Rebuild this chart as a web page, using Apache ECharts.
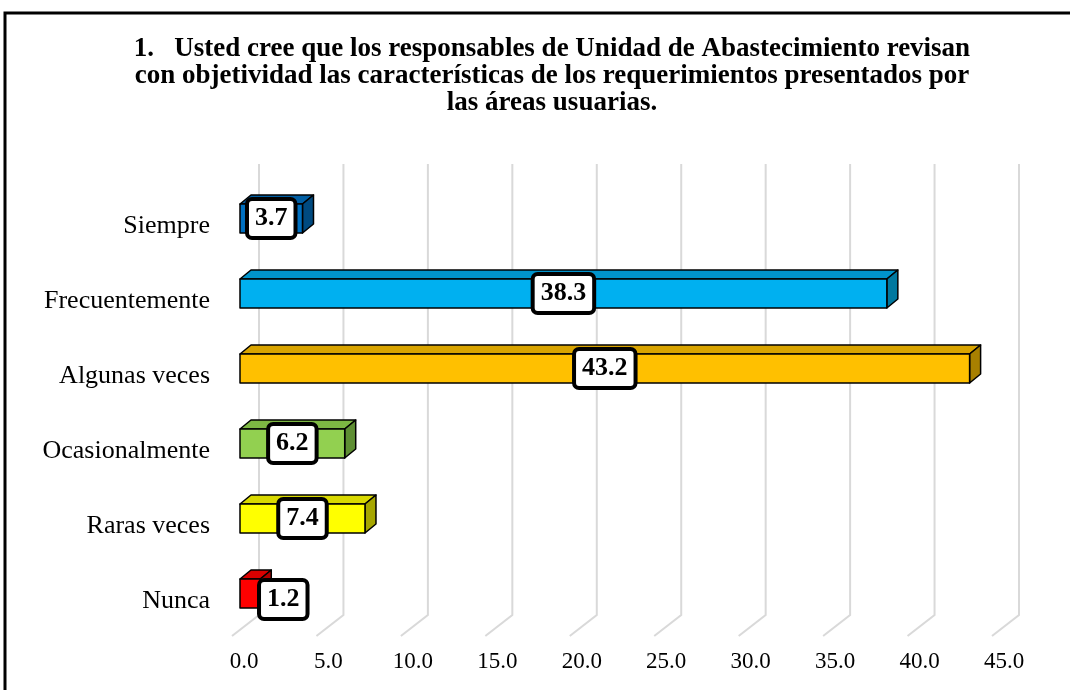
<!DOCTYPE html>
<html>
<head>
<meta charset="utf-8">
<script src="https://cdn.jsdelivr.net/npm/echarts@6/dist/echarts.min.js"></script>
<style>
html,body{margin:0;padding:0;background:#fff;}
#chart{width:1070px;height:690px;}
</style>
</head>
<body>
<div id="chart"></div>
<script>
// ---- data ----
var categories = ["Siempre", "Frecuentemente", "Algunas veces", "Ocasionalmente", "Raras veces", "Nunca"];
var values = [3.7, 38.3, 43.2, 6.2, 7.4, 1.2];
var tickValues = [0, 5, 10, 15, 20, 25, 30, 35, 40, 45];
var titleLines = [
  "1.   Usted cree que los responsables de Unidad de Abastecimiento revisan",
  "con objetividad las características de los requerimientos presentados por",
  "las áreas usuarias."
];

// ---- styles ----
var faceColors = [
  {front:"#0070C0", top:"#005EA3", side:"#004A80"},
  {front:"#00B0F0", top:"#0094CC", side:"#00789F"},
  {front:"#FFC000", top:"#D9A400", side:"#A88000"},
  {front:"#92D050", top:"#7DB843", side:"#5E8E33"},
  {front:"#FFFF00", top:"#D9D900", side:"#A6A600"},
  {front:"#FF0000", top:"#D90000", side:"#B00000"}
];
var FONT = '"Liberation Serif","Times New Roman",serif';
var DX = 11, DY = -9, FACE_H = 29, FACE_SHIFT = -8;

var chart = echarts.init(document.getElementById('chart'), null, {renderer:'canvas'});

var barData = values.map(function(v, i){ return [v, i]; });
var gridData = tickValues.map(function(v){ return [v, 0]; });

var option = {
  backgroundColor: '#fff',
  animation: false,
  title: {
    text: titleLines.join('\n'),
    left: 547,
    top: 31,
    textAlign: 'center',
    textStyle: {fontFamily: FONT, fontWeight: 'bold', fontSize: 27, lineHeight: 27, color: '#000'}
  },
  graphic: [{
    type: 'rect',
    shape: {x: 5, y: 13, width: 1100, height: 700},
    style: {fill: 'none', stroke: '#000', lineWidth: 3},
    silent: true
  }],
  grid: {left: 240, right: 70, top: 189, bottom: 51},
  xAxis: {
    type: 'value', min: 0, max: 45, interval: 5,
    axisLine: {show: false}, axisTick: {show: false}, splitLine: {show: false},
    axisLabel: {
      fontFamily: FONT, fontSize: 23, color: '#000', margin: 11,
      padding: [0, 0, 0, 8],
      formatter: function(v){ return v.toFixed(1); }
    }
  },
  yAxis: {
    type: 'category', data: categories, inverse: true,
    axisLine: {show: false}, axisTick: {show: false}, splitLine: {show: false},
    axisLabel: {fontFamily: FONT, fontSize: 26, color: '#000', margin: 30}
  },
  series: [
    {
      type: 'custom',
      data: gridData,
      encode: {x: 0, y: 1},
      z: 1,
      silent: true,
      renderItem: function(params, api){
        var cs = params.coordSys;
        var x = api.coord([api.value(0), 0])[0] + 19;
        var yTop = cs.y - 25;
        var yBot = cs.y + cs.height - 24;
        return {
          type: 'polyline',
          shape: {points: [[x, yTop], [x, yBot], [x - 27, yBot + 21]]},
          style: {stroke: '#D9D9D9', lineWidth: 2, fill: 'none'}
        };
      }
    },
    {
      type: 'custom',
      data: barData,
      encode: {x: 0, y: 1},
      z: 2,
      renderItem: function(params, api){
        var v = api.value(0), c = api.value(1);
        var p0 = api.coord([0, c]);
        var p1 = api.coord([v, c]);
        var x0 = p0[0], x1 = p1[0];
        var cy = p0[1] + FACE_SHIFT;
        var top = cy - FACE_H / 2, bot = cy + FACE_H / 2;
        var col = faceColors[c];
        var stroke = {stroke: '#000', lineWidth: 1.5, lineJoin: 'round'};
        var txt = v.toFixed(1);
        var boxW = 54;
        var lx = (x0 + x1) / 2, ly = cy;
        if (x1 - x0 < boxW) { lx = x1 + boxW / 2 - 4; ly = cy + 6; }
        return {
          type: 'group',
          children: [
            {type: 'polygon', shape: {points: [[x0, top], [x1, top], [x1 + DX, top + DY], [x0 + DX, top + DY]]},
             style: Object.assign({fill: col.top}, stroke)},
            {type: 'polygon', shape: {points: [[x1, top], [x1 + DX, top + DY], [x1 + DX, bot + DY], [x1, bot]]},
             style: Object.assign({fill: col.side}, stroke)},
            {type: 'rect', shape: {x: x0, y: top, width: x1 - x0, height: FACE_H},
             style: Object.assign({fill: col.front}, stroke)},
            {type: 'text', x: lx, y: ly,
             style: {text: txt, fontFamily: FONT, fontWeight: 'bold', fontSize: 26, fill: '#000',
                     align: 'center', verticalAlign: 'middle',
                     backgroundColor: '#fff', borderColor: '#000', borderWidth: 4, borderRadius: 3,
                     padding: [5, 6, 4, 6]}}
          ]
        };
      }
    }
  ]
};
chart.setOption(option);
</script>
</body>
</html>
